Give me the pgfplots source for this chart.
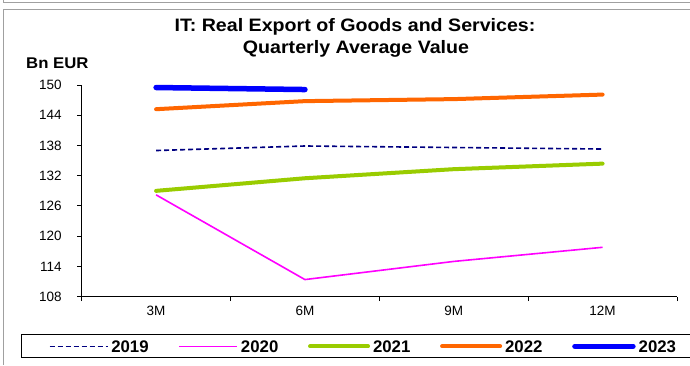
\documentclass[border=0pt]{standalone}
\usepackage{fontspec}
\setmainfont{Liberation Sans}
\usepackage{pgfplots}
\pgfplotsset{compat=1.18}
\definecolor{c2019}{RGB}{0,0,128}
\definecolor{c2020}{RGB}{255,0,255}
\definecolor{c2021}{RGB}{153,204,0}
\definecolor{c2022}{RGB}{255,102,0}
\definecolor{c2023}{RGB}{0,0,255}
\definecolor{frame}{RGB}{160,160,160}
\begin{document}
\begin{tikzpicture}
\useasboundingbox (0pt,0pt) rectangle (690pt,365pt);
\fill[white] (0pt,0pt) rectangle (690pt,365pt);
\draw[frame, line width=1.2pt] (3.5pt,365pt) -- (3.5pt,362.5pt) -- (690pt,362.5pt);
\draw[frame, line width=1.2pt] (690pt,355.5pt) -- (3.5pt,355.5pt) -- (3.5pt,0pt);
\node[font=\fontsize{18}{20}\selectfont\bfseries, xscale=1.09, anchor=base, inner sep=0pt] at (355pt,333.3pt) {IT: Real Export of Goods and Services:};
\node[font=\fontsize{18}{20}\selectfont\bfseries, xscale=1.09, anchor=base, inner sep=0pt] at (356pt,311.7pt) {Quarterly Average Value};
\node[font=\fontsize{15.5}{17}\selectfont\bfseries, xscale=1.08, anchor=base west, inner sep=0pt] at (26pt,296.7pt) {Bn EUR};
\begin{axis}[
  at={(81.7pt,68.3pt)}, anchor=south west,
  scale only axis, width=595.3pt, height=211.7pt,
  xmin=0, xmax=4, ymin=108, ymax=150,
  axis x line*=bottom, axis y line*=left,
  axis line style={black, line width=1pt},
  ytick={108,114,...,150},
  xtick={0,1,2,3,4}, xticklabels={},
  extra x ticks={0.5,1.5,2.5,3.5},
  extra x tick labels={3M,6M,9M,12M},
  extra x tick style={major tick length=0pt},
  tick align=outside, major tick length=4.5pt,
  tick style={black, line width=1pt},
  tick label style={font=\fontsize{13.5}{15}\selectfont},
  /pgf/number format/assume math mode=true,
  yticklabel style={xshift=-12pt},
  xticklabel style={yshift=-6pt},
  clip=false,
  legend columns=5,
  legend image code/.code={\draw[#1] (0pt,0pt) -- (58pt,0pt);},
  legend style={at={(-0.10247,-0.1776)}, anchor=north west, draw=black, line width=1pt,
    inner xsep=27.5pt, inner ysep=1.5pt,
    font=\fontsize{16.8}{18}\selectfont\bfseries,
    nodes={inner xsep=3pt, inner ysep=1pt, text height=14.9pt, text depth=3.1pt},
    /tikz/every even column/.append style={column sep=26.7pt}},
]
\addplot[c2019, line width=1.6pt, dash pattern=on 5pt off 3pt] coordinates {(0.5,137.0) (1.5,137.9) (2.5,137.6) (3.5,137.3)};
\addlegendentry{2019}
\addplot[c2020, line width=1.6pt] coordinates {(0.5,128.2) (1.5,111.4) (2.5,115.0) (3.5,117.8)};
\addlegendentry{2020}
\addplot[c2021, line width=4pt, line cap=round] coordinates {(0.5,129.0) (1.5,131.5) (2.5,133.3) (3.5,134.4)};
\addlegendentry{2021}
\addplot[c2022, line width=4pt, line cap=round] coordinates {(0.5,145.2) (1.5,146.8) (2.5,147.2) (3.5,148.1)};
\addlegendentry{2022}
\addplot[c2023, line width=5.5pt, line cap=round] coordinates {(0.5,149.5) (1.5,149.1)};
\addlegendentry{2023}
\end{axis}
\end{tikzpicture}
\end{document}
